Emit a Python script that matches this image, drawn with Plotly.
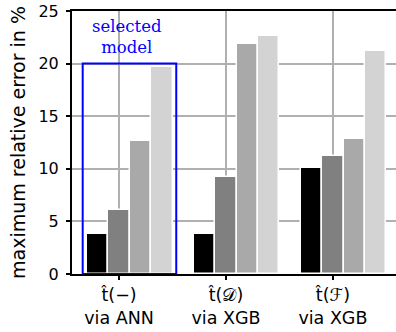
import plotly.graph_objects as go

categories = ["t̂(−)<br>via ANN", "t̂(𝒟)<br>via XGB", "t̂(ℱ)<br>via XGB"]
series_names = ["s1", "s2", "s3", "s4"]
series_values = [
    [3.8, 3.8, 10.1],
    [6.1, 9.2, 11.2],
    [12.6, 21.9, 12.8],
    [19.7, 22.6, 21.2],
]
series_colors = ["#000000", "#808080", "#a9a9a9", "#d3d3d3"]
y_ticks = [0, 5, 10, 15, 20, 25]

bar_w = 0.2
idx = list(range(len(categories)))

fig = go.Figure()
for k, (name, vals, col) in enumerate(zip(series_names, series_values, series_colors)):
    fig.add_trace(go.Bar(
        x=[i + (k - 1) * bar_w for i in idx],
        y=vals,
        width=bar_w,
        name=name,
        marker=dict(color=col, line=dict(color="white", width=1.5)),
        showlegend=False,
    ))

fig.add_shape(type="rect", xref="x", yref="y",
              x0=-0.34, x1=0.535, y0=0, y1=20,
              line=dict(color="#0000ff", width=2), fillcolor="rgba(0,0,0,0)")
fig.add_annotation(x=0.07, y=22.5, xref="x", yref="y",
                   text="selected<br>model", showarrow=False,
                   font=dict(family="DejaVu Serif", size=16.5, color="#0000ff"))

fig.update_layout(
    width=396, height=332,
    margin=dict(l=72, r=0, t=11, b=58),
    paper_bgcolor="white", plot_bgcolor="white",
    font=dict(family="DejaVu Sans", color="black"),
    bargap=0,
)
fig.update_xaxes(
    range=[-0.44, 2.59], automargin=False,
    tickmode="array", tickvals=idx, ticktext=categories,
    tickfont=dict(size=17.5),
    showgrid=True, gridcolor="#b0b0b0", gridwidth=1.5,
    showline=True, linecolor="black", linewidth=2, mirror=True,
    ticks="outside", ticklen=4, tickwidth=1.5, tickcolor="black",
    zeroline=False, layer="above traces",
)
fig.update_yaxes(
    range=[0, 25], automargin=False,
    tickmode="array", tickvals=y_ticks,
    tickfont=dict(size=16), ticklabelstandoff=4,
    title=dict(text="maximum relative error in %", font=dict(size=19), standoff=8),
    showgrid=True, gridcolor="#b0b0b0", gridwidth=1.5,
    showline=True, linecolor="black", linewidth=2,
    ticks="outside", ticklen=4, tickwidth=1.5, tickcolor="black",
    zeroline=False, layer="above traces",
)

fig.write_html("out.html", config={"displayModeBar": False},
               post_script="document.body.style.margin='0';")
